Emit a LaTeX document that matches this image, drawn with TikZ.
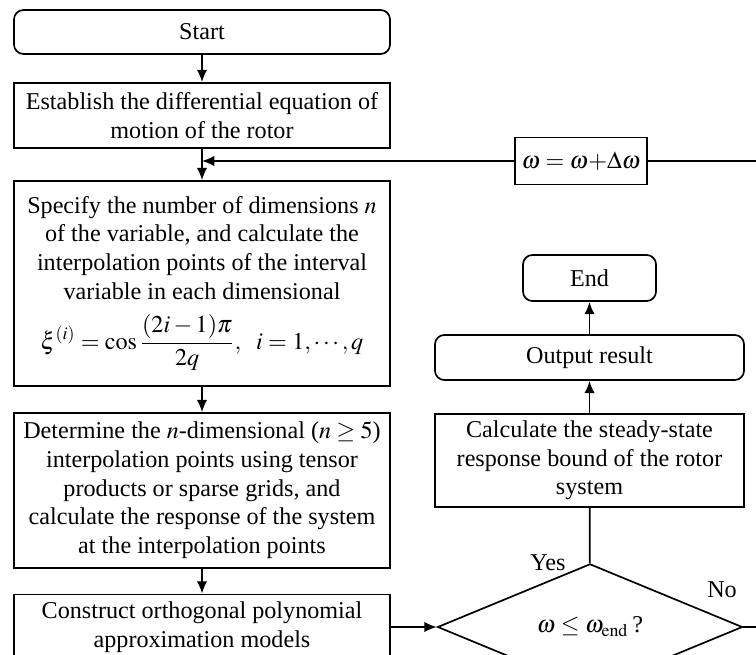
\documentclass[tikz,border=0pt]{standalone}
\usepackage{mathptmx}
\usepackage{fontspec}
\setmainfont{Liberation Serif}
\usetikzlibrary{shapes.geometric, arrows.meta}

\begin{document}
\begin{tikzpicture}[x=0.53pt, y=-0.53pt, >={Latex[length=6.5pt,width=5.5pt]}, line width=0.9pt,
    font=\fontsize{12.8}{15.2}\selectfont,
    kasten/.style={draw, align=center, inner sep=0pt},
    rund/.style={kasten, rounded corners=5pt},
    raute/.style={draw, diamond, inner sep=0pt, minimum width=161.6pt, minimum height=32.9pt}]
  % Bildausschnitt
  \clip (0,0) rectangle (756,655);

  % linke Spalte
  \node[rund, minimum width=199.3pt, minimum height=23.3pt] (start) at (202,32) {Start};
  \node[kasten, minimum width=199.3pt, minimum height=34.5pt] (establish) at (202,115.5)
    {Establish the differential equation of\\ motion of the rotor};
  \node[kasten, minimum width=199.3pt, minimum height=108.7pt] (specify) at (202,283.5)
    {Specify the number of dimensions $n$\\ of the variable, and calculate the\\
     interpolation points of the interval\\ variable in each dimensional\\[7pt]
     $\displaystyle \xi^{(i)}=\cos\frac{(2i-1)\pi}{2q},\ \ i=1,\cdots,q$};
  \node[kasten, minimum width=199.3pt, minimum height=82.2pt] (determine) at (202,490.5)
    {Determine the $n$-dimensional ($n\geq 5$)\\ interpolation points using tensor\\
     products or sparse grids, and\\ calculate the response of the system\\
     at the interpolation points};
  \node[kasten, minimum width=199.3pt, minimum height=34.5pt] (construct) at (202,627)
    {Construct orthogonal polynomial\\ approximation models};

  % rechte Spalte
  \node[raute] (entscheid) at (590,627) {$\omega \leq \omega_{\mathrm{end}}$\,?};
  \node[kasten, minimum width=163.8pt, minimum height=49.3pt] (calc) at (589.5,460.5)
    {Calculate the steady-state\\ response bound of the rotor\\ system};
  \node[rund, minimum width=163.8pt, minimum height=23.9pt] (output) at (589.5,357.5) {Output result};
  \node[rund, minimum width=70.5pt, minimum height=24.4pt] (ende) at (589.5,278) {End};
  \node[kasten, minimum width=70pt, minimum height=24.9pt] (omega) at (581,161)
    {$\omega=\omega{+}\Delta\omega$};

  % Beschriftung der Zweige
  \node (ja) at (548,563) {Yes};
  \node (nein) at (722,590) {No};

  % Hilfspunkte der Rueckfuehrung
  \coordinate (einmuendung) at (202,161);
  \coordinate (rechtsunten) at (775,627);
  \coordinate (rechtsoben) at (775,161);

  % Pfeile
  \draw[->] (start) -- (establish);
  \draw[->] (establish) -- (specify);
  \draw[->] (specify) -- (determine);
  \draw[->] (determine) -- (construct);
  \draw[->] (construct) -- (entscheid);
  \draw (entscheid) -- (calc);
  \draw[->] (calc) -- (output);
  \draw[->] (output) -- (ende);

  % Rueckfuehrung (No)
  \draw (entscheid.east) -- (rechtsunten) -- (rechtsoben) -- (omega.east);
  \draw[->] (omega.west) -- (einmuendung);
\end{tikzpicture}
\end{document}
